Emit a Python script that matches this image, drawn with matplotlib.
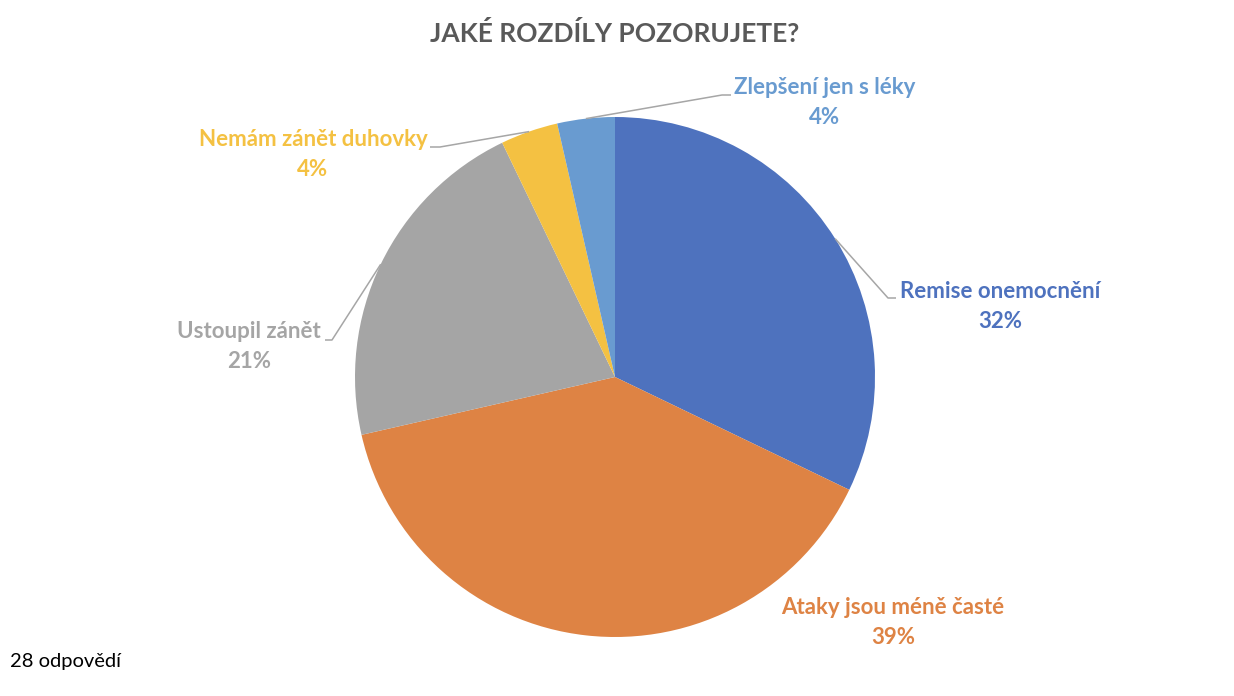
import matplotlib
matplotlib.use("Agg")
import matplotlib.pyplot as plt
import numpy as np

# ---- data ----
title = "JAKÉ ROZDÍLY POZORUJETE?"
categories = ["Remise onemocnění", "Ataky jsou méně časté", "Ustoupil zánět",
              "Nemám zánět duhovky", "Zlepšení jen s léky"]
counts = [9, 11, 6, 1, 1]
pct_labels = ["32%", "39%", "21%", "4%", "4%"]
footnote = "28 odpovědí"

colors = ["#4E72BE", "#DE8344", "#A5A5A5", "#F4C142", "#699BD0"]

W, H = 1234, 696
CX, CY, R = 615, 377, 260  # pie center/radius in pixels (from top)

plt.rcParams['font.family'] = ['Lato', 'DejaVu Sans']
fig = plt.figure(figsize=(W / 100, H / 100), dpi=100)
ax = fig.add_axes([0, 0, 1, 1])

def px(x, y):
    return ((x - CX) / R, (CY - y) / R)

wedges, _ = ax.pie(counts, colors=colors, startangle=90, counterclock=False,
                   radius=1.0, wedgeprops=dict(linewidth=0))
ax.set_xlim(-CX / R, (W - CX) / R)
ax.set_ylim(-(H - CY) / R, CY / R)
ax.set_aspect('equal', adjustable='datalim')
ax.axis('off')

# label placements (pixel) : (line1 center, elbow, line end)
label_pos = {
    0: dict(t=(1000, 291), elbow=(888, 298), end=(896, 298)),
    1: dict(t=(893, 608), elbow=None, end=None),
    2: dict(t=(249, 331), elbow=(332, 340), end=(325, 340)),
    3: dict(t=(313, 139), elbow=(440, 147), end=(430, 147)),
    4: dict(t=(825, 87), elbow=(722, 95), end=(731, 95)),
}

total = sum(counts)
cum = 0
for i, c in enumerate(counts):
    mid_frac = (cum + c / 2) / total
    cum += c
    ang = np.deg2rad(90 - 360 * mid_frac)
    p = label_pos[i]
    if p["elbow"] is not None:
        sx, sy = np.cos(ang), np.sin(ang)
        ex, ey = px(*p["elbow"])
        nx, ny = px(*p["end"])
        ax.plot([sx, ex, nx], [sy, ey, ny], color="#A6A6A6", lw=1.1,
                solid_capstyle='butt', zorder=5)
    tx, ty = p["t"]
    ax.text(*px(tx, ty), categories[i], ha='center', va='center',
            fontsize=16, fontweight='bold', color=colors[i])
    ax.text(*px(tx, ty + 30), pct_labels[i], ha='center', va='center',
            fontsize=16, fontweight='bold', color=colors[i])

fig.text(615 / W, 1 - 33 / H, title, ha='center', va='center',
         fontsize=19, fontweight='bold', color="#595959")
fig.text(10 / W, 1 - 662 / H, footnote, ha='left', va='center',
         fontsize=14.5, color="black")

fig.savefig("out.png", dpi=100, facecolor="white")
